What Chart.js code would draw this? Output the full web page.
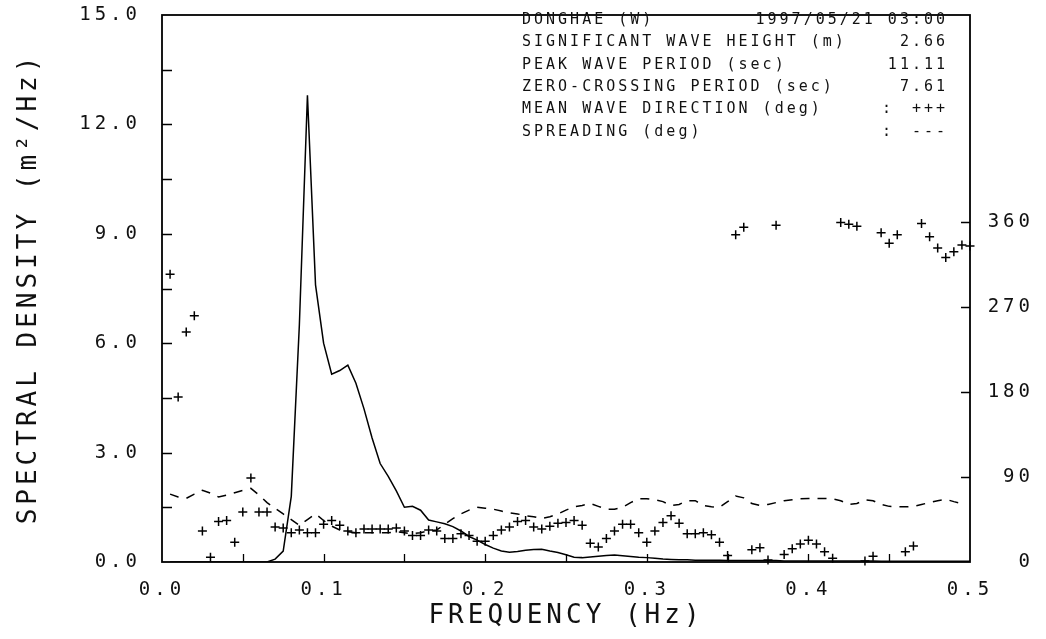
<!DOCTYPE html>
<html>
<head>
<meta charset="utf-8">
<script src="https://cdn.jsdelivr.net/npm/chart.js@4/dist/chart.umd.min.js"></script>
<style>
  html, body { margin: 0; padding: 0; background: #fff; }
</style>
</head>
<body>
<canvas id="grafico" width="1046" height="639"></canvas>
<script>
// frequencias (Hz), uma linha por 0.05 Hz
const freq = [
  0.005, 0.010, 0.015, 0.020, 0.025, 0.030, 0.035, 0.040, 0.045, 0.050,
  0.055, 0.060, 0.065, 0.070, 0.075, 0.080, 0.085, 0.090, 0.095, 0.100,
  0.105, 0.110, 0.115, 0.120, 0.125, 0.130, 0.135, 0.140, 0.145, 0.150,
  0.155, 0.160, 0.165, 0.170, 0.175, 0.180, 0.185, 0.190, 0.195, 0.200,
  0.205, 0.210, 0.215, 0.220, 0.225, 0.230, 0.235, 0.240, 0.245, 0.250,
  0.255, 0.260, 0.265, 0.270, 0.275, 0.280, 0.285, 0.290, 0.295, 0.300,
  0.305, 0.310, 0.315, 0.320, 0.325, 0.330, 0.335, 0.340, 0.345, 0.350,
  0.355, 0.360, 0.365, 0.370, 0.375, 0.380, 0.385, 0.390, 0.395, 0.400,
  0.405, 0.410, 0.415, 0.420, 0.425, 0.430, 0.435, 0.440, 0.445, 0.450,
  0.455, 0.460, 0.465, 0.470, 0.475, 0.480, 0.485, 0.490, 0.495, 0.500
];

// densidade espectral (m2/Hz)
const spectrum = [
  0, 0, 0, 0, 0, 0, 0, 0, 0, 0,
  0, 0, 0, 0.08, 0.3, 1.8, 6.5, 12.8, 7.6, 6.0,
  5.15, 5.25, 5.4, 4.9, 4.2, 3.4, 2.7, 2.35, 1.95, 1.5,
  1.53, 1.42, 1.15, 1.1, 1.05, 0.97, 0.85, 0.7, 0.6, 0.48,
  0.38, 0.3, 0.27, 0.29, 0.32, 0.34, 0.35, 0.3, 0.26, 0.2,
  0.13, 0.12, 0.14, 0.16, 0.18, 0.19, 0.17, 0.15, 0.13, 0.12,
  0.1, 0.08, 0.07, 0.06, 0.06, 0.05, 0.05, 0.05, 0.05, 0.04,
  0.04, 0.04, 0.04, 0.04, 0.04, 0.04, 0.03, 0.03, 0.03, 0.03,
  0.03, 0.03, 0.03, 0.03, 0.03, 0.03, 0.03, 0.03, 0.02, 0.02,
  0.02, 0.02, 0.02, 0.02, 0.02, 0.02, 0.02, 0.02, 0.02, 0.02
];

// direcao media (graus) - marcadores +
const direction = [
  305, 175, 244, 261, 33, 5, 43, 44, 21, 53,
  89, 53, 53, 37, 36, 31, 34, 31, 31, 40,
  44, 39, 33, 31, 35, 35, 35, 35, 36, 33,
  28, 28, 34, 33, 25, 25, 30, 28, 22, 22,
  28, 34, 37, 43, 44, 37, 35, 38, 41, 42,
  44, 39, 20, 16, 25, 33, 40, 40, 31, 21,
  33, 42, 49, 41, 30, 30, 31, 29, 21, 7,
  347, 355, 13, 15, 2, 357, 8, 14, 19, 23,
  19, 11, 4, 360, 358, 356, 1, 6, 349, 338,
  347, 11, 17, 359, 345, 333, 323, 329, 336, 335
];

// espalhamento (graus) - linha tracejada
const spreading = [
  72, 69, 67.5, 72, 76, 73, 69, 71, 73.5, 76,
  78, 71, 63, 57, 51, 45, 39, 45, 51, 44,
  38, 34, 32, 31, 31, 31, 31, 31, 32, 31,
  30, 31, 33, 34, 40, 46, 51, 55, 58, 57,
  56, 54, 52, 51, 49, 48, 46, 48, 51, 55,
  58.5, 60, 62, 59, 56, 56, 58, 63, 67, 67,
  66, 64, 60, 61, 65, 65, 60, 58.5, 58, 64,
  70, 68, 62, 60, 61, 63, 65, 66, 67, 67.4,
  67.4, 67.4, 67, 65, 61, 62, 66, 65, 61, 59,
  58.5, 58.5, 59, 61, 63, 65, 66.5, 64, 62, null
];

const freqTicks = [0, 0.1, 0.2, 0.3, 0.4, 0.5];
const freqMarks = [0.05, 0.1, 0.15, 0.2, 0.25, 0.3, 0.35, 0.4, 0.45];
const densTicks = [0, 3, 6, 9, 12, 15];
const densMarks = [1.5, 3, 4.5, 6, 7.5, 9, 10.5, 12, 13.5];
const degTicks = [0, 90, 180, 270, 360];
const degMarks = [90, 180, 270, 360];

const infoLabels = [
  'DONGHAE (W)',
  'SIGNIFICANT WAVE HEIGHT (m)',
  'PEAK WAVE PERIOD (sec)',
  'ZERO-CROSSING PERIOD (sec)',
  'MEAN WAVE DIRECTION (deg)',
  'SPREADING (deg)'
];
const infoValues = ['1997/05/21 03:00', '2.66', '11.11', '7.61', '+++', '---'];
const infoColon = [false, false, false, false, true, true];

const fonte = "'DejaVu Sans Mono', monospace";
const tinta = '#111';

const pontos = (ys) => freq.map((f, i) => ({ x: f, y: ys[i] }));

// espaco entre letras, como na fonte do plotter
const espacamento = {
  id: 'espacamento',
  beforeUpdate(chart) { chart.ctx.letterSpacing = '4px'; },
  beforeDraw(chart) { chart.ctx.letterSpacing = '4px'; }
};

// tira o espaco extra que o Chart.js reserva para os rotulos das pontas
const semFolga = (s) => {
  s.paddingTop = 0;
  s.paddingBottom = 0;
};

// moldura, marcas internas e o quadro de texto
const moldura = {
  id: 'moldura',
  afterDraw(chart) {
    const { ctx, chartArea: a, scales } = chart;
    ctx.save();
    ctx.strokeStyle = '#000';
    ctx.lineWidth = 1.3;
    ctx.beginPath();
    densMarks.forEach(v => {
      const y = Math.round(scales.y.getPixelForValue(v)) + 0.5;
      ctx.moveTo(a.left, y); ctx.lineTo(a.left + 10, y);
    });
    degMarks.forEach(v => {
      const y = Math.round(scales.y2.getPixelForValue(v)) + 0.5;
      ctx.moveTo(a.right, y); ctx.lineTo(a.right - 9, y);
    });
    freqMarks.forEach(v => {
      const x = Math.round(scales.x.getPixelForValue(v)) + 0.5;
      ctx.moveTo(x, a.bottom); ctx.lineTo(x, a.bottom - 8);
    });
    ctx.stroke();
    ctx.lineWidth = 1.8;
    ctx.strokeRect(a.left, a.top, a.right - a.left, a.bottom - a.top);

    ctx.fillStyle = tinta;
    ctx.font = '15px ' + fonte;
    ctx.letterSpacing = '3px';
    ctx.textBaseline = 'middle';
    const xEsq = 522, xDir = 948, y0 = 20, passo = 22.4;
    infoLabels.forEach((t, i) => {
      const y = y0 + i * passo;
      ctx.textAlign = 'left';
      ctx.fillText(t, xEsq, y);
      ctx.textAlign = 'right';
      ctx.fillText(infoValues[i], xDir, y);
      if (infoColon[i]) {
        ctx.textAlign = 'left';
        ctx.fillText(':', xDir - 66, y);
      }
    });
    ctx.restore();
  }
};

const config = {
  type: 'line',
  data: {
    datasets: [{
      label: 'spectrum',
      data: pontos(spectrum),
      yAxisID: 'y',
      borderColor: '#000',
      borderWidth: 1.5,
      pointRadius: 0,
      tension: 0
    }, {
      label: 'spreading',
      data: pontos(spreading),
      yAxisID: 'y2',
      borderColor: '#000',
      borderWidth: 1.5,
      borderDash: [9, 8],
      pointRadius: 0,
      tension: 0
    }, {
      label: 'direction',
      data: pontos(direction),
      yAxisID: 'y2',
      showLine: false,
      pointStyle: 'cross',
      pointRadius: 4.5,
      pointBorderWidth: 1.5,
      pointBorderColor: '#000',
      clip: false
    }]
  },
  options: {
    responsive: false,
    animation: false,
    layout: { padding: { top: 15, left: 0, right: 12, bottom: 0 } },
    plugins: { legend: { display: false }, tooltip: { enabled: false } },
    scales: {
      x: {
        type: 'linear',
        position: 'bottom',
        min: 0, max: 0.5,
        grid: { display: false },
        border: { display: false },
        afterBuildTicks: (s) => { s.ticks = freqTicks.map(v => ({ value: v })); },
        afterFit: (s) => { s.height = 77; },
        ticks: {
          color: tinta, padding: 9, maxRotation: 0,
          font: { family: fonte, size: 19 },
          callback: (v) => Number(v).toFixed(1)
        },
        title: {
          display: true, text: 'FREQUENCY (Hz)', color: tinta,
          font: { family: fonte, size: 26 },
          padding: { top: 0, bottom: 7 }
        }
      },
      y: {
        type: 'linear',
        position: 'left',
        min: 0, max: 15,
        grid: { display: false },
        border: { display: false },
        afterBuildTicks: (s) => { s.ticks = densTicks.map(v => ({ value: v })); },
        afterFit: (s) => { s.width = 162; semFolga(s); },
        ticks: {
          color: tinta, padding: 13,
          font: { family: fonte, size: 19 },
          callback: (v) => Number(v).toFixed(1)
        },
        title: {
          display: true, text: 'SPECTRAL DENSITY (m²/Hz)', color: tinta,
          font: { family: fonte, size: 26 },
          padding: { top: 14, bottom: 0 }
        }
      },
      y2: {
        type: 'linear',
        position: 'right',
        min: 0, max: 580,
        grid: { display: false },
        border: { display: false },
        afterBuildTicks: (s) => { s.ticks = degTicks.map(v => ({ value: v })); },
        afterFit: (s) => { s.width = 64; semFolga(s); },
        ticks: {
          color: tinta, padding: 3, crossAlign: 'far',
          font: { family: fonte, size: 19 },
          callback: (v) => String(v)
        }
      }
    }
  },
  plugins: [espacamento, moldura]
};

const grafico = new Chart(document.getElementById('grafico'), config);
</script>
</body>
</html>
